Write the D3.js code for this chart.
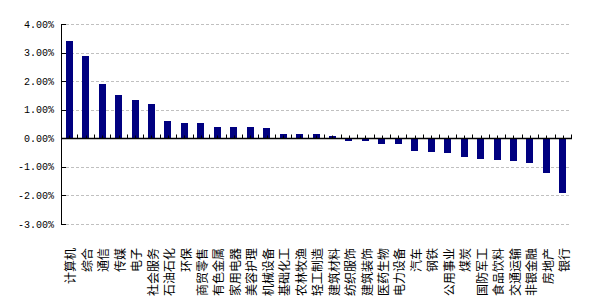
<!DOCTYPE html>
<html>
<head>
<meta charset="utf-8">
<script src="https://cdn.jsdelivr.net/npm/d3@7"></script>
<style>
  body { margin: 0; background: #fff; }
  svg { display: block; }
</style>
</head>
<body>
<div id="chart"></div>
<script>
// Industry returns, sorted high to low
const categories = ['计算机', '综合', '通信', '传媒', '电子', '社会服务', '石油石化', '环保',
  '商贸零售', '有色金属', '家用电器', '美容护理', '机械设备', '基础化工', '农林牧渔', '轻工制造',
  '建筑材料', '纺织服饰', '建筑装饰', '医药生物', '电力设备', '汽车', '钢铁', '公用事业',
  '煤炭', '国防军工', '食品饮料', '交通运输', '非银金融', '房地产', '银行'];
const values = [3.40, 2.88, 1.89, 1.51, 1.33, 1.19, 0.60, 0.53,
  0.53, 0.39, 0.39, 0.39, 0.35, 0.14, 0.14, 0.14,
  0.07, -0.05, -0.05, -0.16, -0.16, -0.41, -0.44, -0.49,
  -0.62, -0.69, -0.74, -0.77, -0.84, -1.18, -1.89];
const yTicks = [-3, -2, -1, 0, 1, 2, 3, 4];

const W = 606, H = 308;
const plotLeft = 61, plotRight = 571, plotTop = 24, plotBottom = 224;

const svg = d3.select('#chart').append('svg')
  .attr('width', W)
  .attr('height', H);

const x = d3.scaleBand()
  .domain(categories)
  .range([plotLeft, plotRight])
  .paddingInner(0.58)
  .paddingOuter(0.29);

const y = d3.scaleLinear()
  .domain([-3, 4])
  .range([plotBottom, plotTop]);

// Dashed gridlines (not at zero)
svg.append('g')
  .selectAll('line')
  .data(yTicks.filter((d) => d !== 0))
  .join('line')
  .attr('x1', plotLeft)
  .attr('x2', plotRight)
  .attr('y1', (d) => Math.round(y(d)) + 0.5)
  .attr('y2', (d) => Math.round(y(d)) + 0.5)
  .attr('stroke', '#c0c0c0')
  .attr('stroke-dasharray', '3,2');

// Bars (tiny values kept visible beyond the axis line)
const zeroY = Math.round(y(0));
svg.append('g')
  .selectAll('rect')
  .data(values)
  .join('rect')
  .attr('x', (d, i) => Math.round(x(categories[i])))
  .attr('width', Math.round(x.bandwidth()))
  .attr('y', (d) => (d >= 0 ? Math.round(y(d)) : zeroY))
  .attr('height', (d) => Math.max(d >= 0 ? 1 : 3, Math.round(Math.abs(y(d) - y(0))) + (d >= 0 ? 0 : 1)))
  .attr('fill', '#000080');

// Y axis
const yAxis = svg.append('g');
yAxis.append('line')
  .attr('x1', plotLeft + 0.5).attr('x2', plotLeft + 0.5)
  .attr('y1', plotTop).attr('y2', plotBottom + 1)
  .attr('stroke', '#000');
yAxis.selectAll('line.tick')
  .data(yTicks)
  .join('line')
  .attr('class', 'tick')
  .attr('x1', plotLeft).attr('x2', plotLeft + 5)
  .attr('y1', (d) => Math.round(y(d)) + 0.5)
  .attr('y2', (d) => Math.round(y(d)) + 0.5)
  .attr('stroke', '#000');
yAxis.selectAll('text')
  .data(yTicks)
  .join('text')
  .attr('x', plotLeft - 7)
  .attr('y', (d) => y(d))
  .attr('dy', '0.35em')
  .attr('text-anchor', 'end')
  .attr('font-family', '"Liberation Mono", "DejaVu Sans Mono", monospace')
  .attr('font-size', '10px')
  .attr('fill', '#000')
  .text((d) => d3.format('.2f')(d).replace('−', '-') + '%');

// X axis at zero
const y0 = zeroY + 0.5;
const xAxis = svg.append('g');
xAxis.append('line')
  .attr('x1', plotLeft).attr('x2', plotRight + 1)
  .attr('y1', y0).attr('y2', y0)
  .attr('stroke', '#000')
  .attr('stroke-width', 1.5);

const step = x.step();
const bounds = d3.range(categories.length + 1).map((i) => plotLeft + i * step);
xAxis.selectAll('line.major')
  .data(bounds)
  .join('line')
  .attr('class', 'major')
  .attr('x1', (d) => Math.round(d) + 0.5)
  .attr('x2', (d) => Math.round(d) + 0.5)
  .attr('y1', y0 - 4).attr('y2', y0)
  .attr('stroke', '#000');
xAxis.selectAll('line.minor')
  .data(categories)
  .join('line')
  .attr('class', 'minor')
  .attr('x1', (d) => Math.round(x(d) + x.bandwidth() / 2) + 0.5)
  .attr('x2', (d) => Math.round(x(d) + x.bandwidth() / 2) + 0.5)
  .attr('y1', y0 - 3).attr('y2', y0)
  .attr('stroke', '#000');

// Category labels, rotated
svg.append('g')
  .selectAll('text')
  .data(categories)
  .join('text')
  .attr('transform', (d) => `translate(${x(d) + x.bandwidth() / 2 + 2},248) rotate(-90)`)
  .attr('text-anchor', 'end')
  .attr('dy', '0.35em')
  .attr('font-family', '"Noto Sans CJK SC", sans-serif')
  .attr('font-size', '12px')
  .attr('fill', '#000')
  .text((d) => d);
</script>
</body>
</html>
